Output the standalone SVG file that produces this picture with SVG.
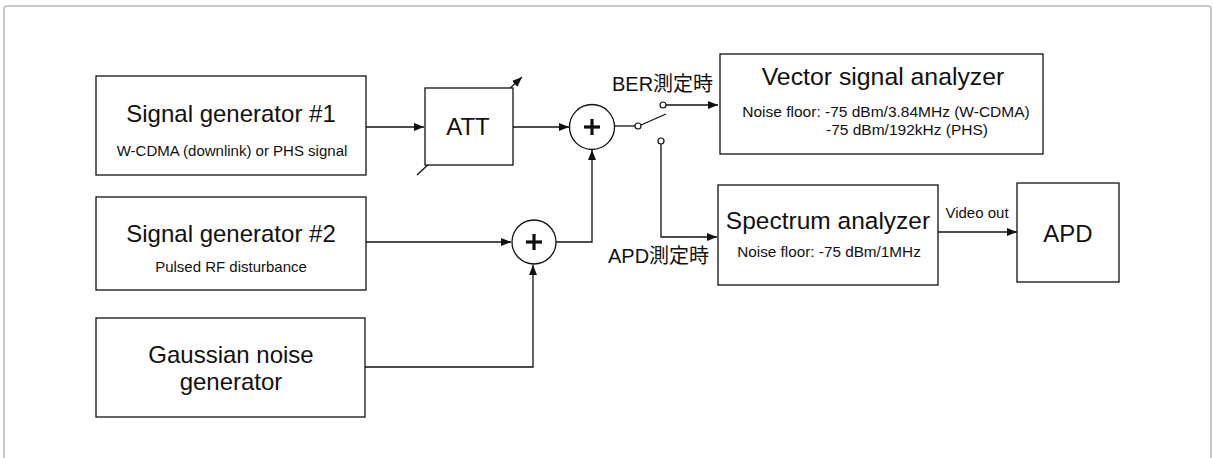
<svg xmlns="http://www.w3.org/2000/svg" width="1213" height="458" viewBox="0 0 1213 458">
<style>
.box{fill:#fff;stroke:#111;stroke-width:1.3}
.ln{fill:none;stroke:#111;stroke-width:1.3}
.t{font-family:"Liberation Sans",Arial,sans-serif;fill:#111;text-anchor:middle}
.big{font-size:24px}
.sm{font-size:15px}
.jp{font-family:"Liberation Sans","Noto Sans CJK JP",sans-serif;font-size:20px;fill:#111}
.plus{stroke:#111;stroke-width:3.2}
.dot{fill:#fff;stroke:#111;stroke-width:1.2}
</style>
<defs>
<marker id="ah" viewBox="0 0 10 8" refX="10" refY="4" markerWidth="10" markerHeight="8" markerUnits="userSpaceOnUse" orient="auto">
<path d="M0,0 L10,4 L0,8 z" fill="#111"/>
</marker>
</defs>
<rect x="4" y="6" width="1207" height="470" rx="3" fill="#fff" stroke="#c8c8cc" stroke-width="2"/>

<g id="connectors">
<line class="ln" x1="366" y1="127" x2="424" y2="127" marker-end="url(#ah)"/>
<line class="ln" x1="417" y1="175" x2="522" y2="77" marker-end="url(#ah)"/>
<line class="ln" x1="513" y1="127" x2="569" y2="127" marker-end="url(#ah)"/>
<line class="ln" x1="615" y1="126" x2="635" y2="126"/>
<line class="ln" x1="641" y1="125" x2="666" y2="114"/>
<line class="ln" x1="666" y1="105" x2="718" y2="105" marker-end="url(#ah)"/>
<polyline class="ln" points="661,144 661,237 717,237" marker-end="url(#ah)"/>
<line class="ln" x1="366" y1="242" x2="511" y2="242" marker-end="url(#ah)"/>
<polyline class="ln" points="556,242 592,242 592,150" marker-end="url(#ah)"/>
<polyline class="ln" points="365,367 533,367 533,265" marker-end="url(#ah)"/>
<line class="ln" x1="938" y1="232" x2="1017" y2="232" marker-end="url(#ah)"/>
<text class="t sm" x="977" y="218">Video out</text>
<text class="jp" x="612" y="91">BER測定時</text>
<text class="jp" x="608" y="263">APD測定時</text>
<circle class="dot" cx="638" cy="126" r="3"/>
<circle class="dot" cx="663" cy="105" r="3"/>
<circle class="dot" cx="661" cy="141" r="3"/>
</g>

<g id="sg1">
<rect class="box" x="96" y="76" width="270" height="99"/>
<text class="t big" x="231" y="122">Signal generator #1</text>
<text class="t sm" x="232" y="156">W-CDMA (downlink) or PHS signal</text>
</g>
<g id="sg2">
<rect class="box" x="96" y="197" width="270" height="93"/>
<text class="t big" x="231" y="242">Signal generator #2</text>
<text class="t sm" x="231" y="272">Pulsed RF disturbance</text>
</g>
<g id="gauss">
<rect class="box" x="96" y="318" width="269" height="99"/>
<text class="t big" x="231" y="363">Gaussian noise</text>
<text class="t big" x="231" y="390">generator</text>
</g>
<g id="att">
<rect class="box" x="425" y="88" width="88" height="77"/>
<text class="t big" x="468" y="135">ATT</text>
</g>
<g id="sum1">
<circle class="box" cx="592" cy="127" r="22.5"/>
<line class="plus" x1="584" y1="127" x2="600" y2="127"/>
<line class="plus" x1="592" y1="119" x2="592" y2="135"/>
</g>
<g id="sum2">
<circle class="box" cx="534" cy="242" r="22"/>
<line class="plus" x1="526" y1="242" x2="542" y2="242"/>
<line class="plus" x1="534" y1="234" x2="534" y2="250"/>
</g>
<g id="vsa">
<rect class="box" x="720" y="54" width="323" height="100"/>
<text class="t" style="font-size:24.8px" x="883" y="85">Vector signal analyzer</text>
<text class="t" style="font-size:15.5px" x="886" y="117">Noise floor: -75 dBm/3.84MHz (W-CDMA)</text>
<text class="t" style="font-size:15.5px" x="907" y="135">-75 dBm/192kHz (PHS)</text>
</g>
<g id="spa">
<rect class="box" x="718" y="185" width="220" height="100"/>
<text class="t" style="font-size:24.5px" x="828" y="229">Spectrum analyzer</text>
<text class="t" style="font-size:15.3px" x="829" y="257">Noise floor: -75 dBm/1MHz</text>
</g>
<g id="apd">
<rect class="box" x="1017" y="183" width="102" height="99"/>
<text class="t big" x="1068" y="242">APD</text>
</g>
</svg>
